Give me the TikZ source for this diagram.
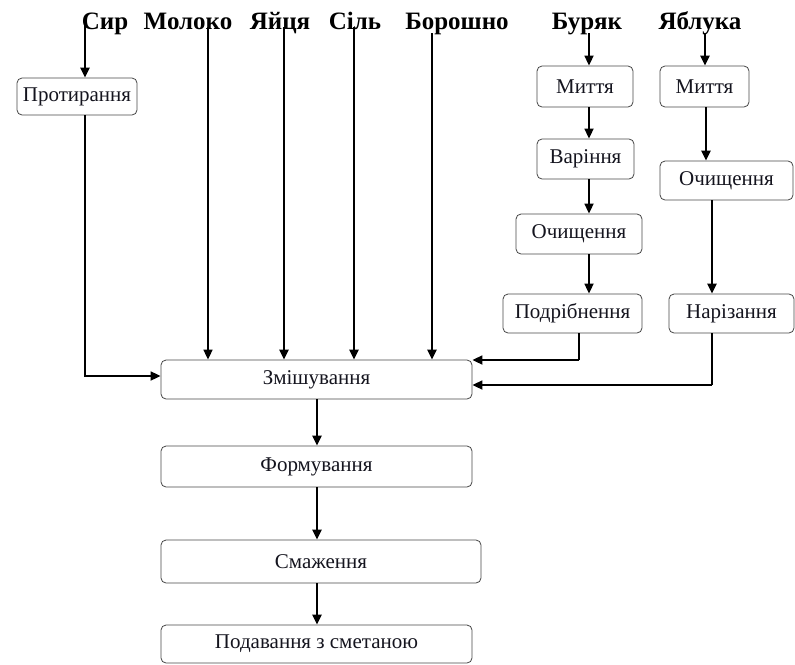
\documentclass[tikz,border=0pt]{standalone}
\usepackage{fontspec}
\setmainfont{Liberation Serif}
\usetikzlibrary{arrows.meta}
\definecolor{ink}{RGB}{20,20,30}
\definecolor{frame}{RGB}{70,70,70}
\begin{document}
\begin{tikzpicture}[x=1pt,y=-1pt,
  every node/.style={text=ink},
  stage/.style={draw=frame,line width=0.8pt,rounded corners=5pt,inner sep=0pt,
    font=\fontsize{21}{24}\selectfont},
  source/.style={inner sep=0pt,anchor=base,text=black,font=\bfseries\fontsize{25}{28}\selectfont},
  flow/.style={draw=black,line width=1.7pt,-{Triangle[length=10pt,width=9pt]}},
  boldflow/.style={flow,line width=2.6pt},
  link/.style={draw=black,line width=1.7pt}]
\useasboundingbox (0,0) rectangle (795,664);

% raw materials along the top, sharing one baseline
\node[source] (syr) at (105,29) {Сир};
\node[source] (moloko) at (188,29) {Молоко};
\node[source] (yaitsia) at (280,29) {Яйця};
\node[source] (sil) at (355,29) {Сіль};
\node[source] (boroshno) at (457,29) {Борошно};
\node[source] (buriak) at (587,29) {Буряк};
\node[source] (yabluka) at (700,29) {Яблука};

% processing stages
\node[stage,minimum width=120pt,minimum height=37pt] (prot) at (77,96.5) {Протирання};
\node[stage,minimum width=311pt,minimum height=39pt] (mix) at (316.5,379.5) {Змішування};
\node[stage,minimum width=311pt,minimum height=41pt] (form) at (316.5,466.5) {Формування};
\node[stage,minimum width=320pt,minimum height=43pt] (fry) at (321,561.5) {Смаження};
\node[stage,minimum width=311pt,minimum height=38pt] (serve) at (316.5,644) {Подавання з сметаною};

% beetroot line
\node[stage,minimum width=96pt,minimum height=41pt] (bwash) at (585,86.5) {Миття};
\node[stage,minimum width=97pt,minimum height=40pt] (bboil) at (585.5,159) {Варіння};
\node[stage,minimum width=126pt,minimum height=40pt] (bpeel) at (579,234) {Очищення};
\node[stage,minimum width=139pt,minimum height=39pt] (bgrind) at (572.5,313.5) {Подрібнення};

% apple line
\node[stage,minimum width=89pt,minimum height=41pt] (awash) at (704.5,86.5) {Миття};
\node[stage,minimum width=133pt,minimum height=39pt] (apeel) at (726.5,180.5) {Очищення};
\node[stage,minimum width=125pt,minimum height=39pt] (acut) at (731.5,313.5) {Нарізання};

% cheese
\draw[boldflow] (syr.base -| 85,0) ++(0,-4) -- (prot.north -| 85,0);
\draw[flow] (prot.south -| 85,0) |- (mix.west |- 0,376);

% direct ingredients into the mixer
\draw[flow] (moloko.base -| 208,0) ++(0,-2) -- (mix.north -| 208,0);
\draw[boldflow] (yaitsia.base -| 284,0) ++(0,-2) -- (mix.north -| 284,0);
\draw[boldflow] (sil.base -| 354,0) ++(0,-2) -- (mix.north -| 354,0);
\draw[boldflow] (boroshno.base -| 432,0) ++(0,4) -- (mix.north -| 432,0);

% beetroot chain
\draw[flow] (buriak.base -| 589,0) ++(0,4) -- (bwash.north -| 589,0);
\draw[flow] (bwash.south -| 589,0) -- (bboil.north -| 589,0);
\draw[flow] (bboil.south -| 589,0) -- (bpeel.north -| 589,0);
\draw[flow] (bpeel.south -| 589,0) -- (bgrind.north -| 589,0);
\draw[link] (bgrind.south -| 579,0) -- (579,360);
\draw[flow] (579,360) -- (mix.east |- 0,360);

% apple chain
\draw[boldflow] (yabluka.base -| 705,0) ++(0,4) -- (awash.north -| 705,0);
\draw[boldflow] (awash.south -| 706,0) -- (apeel.north -| 706,0);
\draw[boldflow] (apeel.south -| 712,0) -- (acut.north -| 712,0);
\draw[link] (acut.south -| 712,0) -- (712,385);
\draw[flow] (712,385) -- (mix.east |- 0,385);

% main line
\draw[boldflow] (mix.south -| 317,0) -- (form.north -| 317,0);
\draw[boldflow] (form.south -| 317,0) -- (fry.north -| 317,0);
\draw[boldflow] (fry.south -| 317,0) -- (serve.north -| 317,0);
\end{tikzpicture}
\end{document}
